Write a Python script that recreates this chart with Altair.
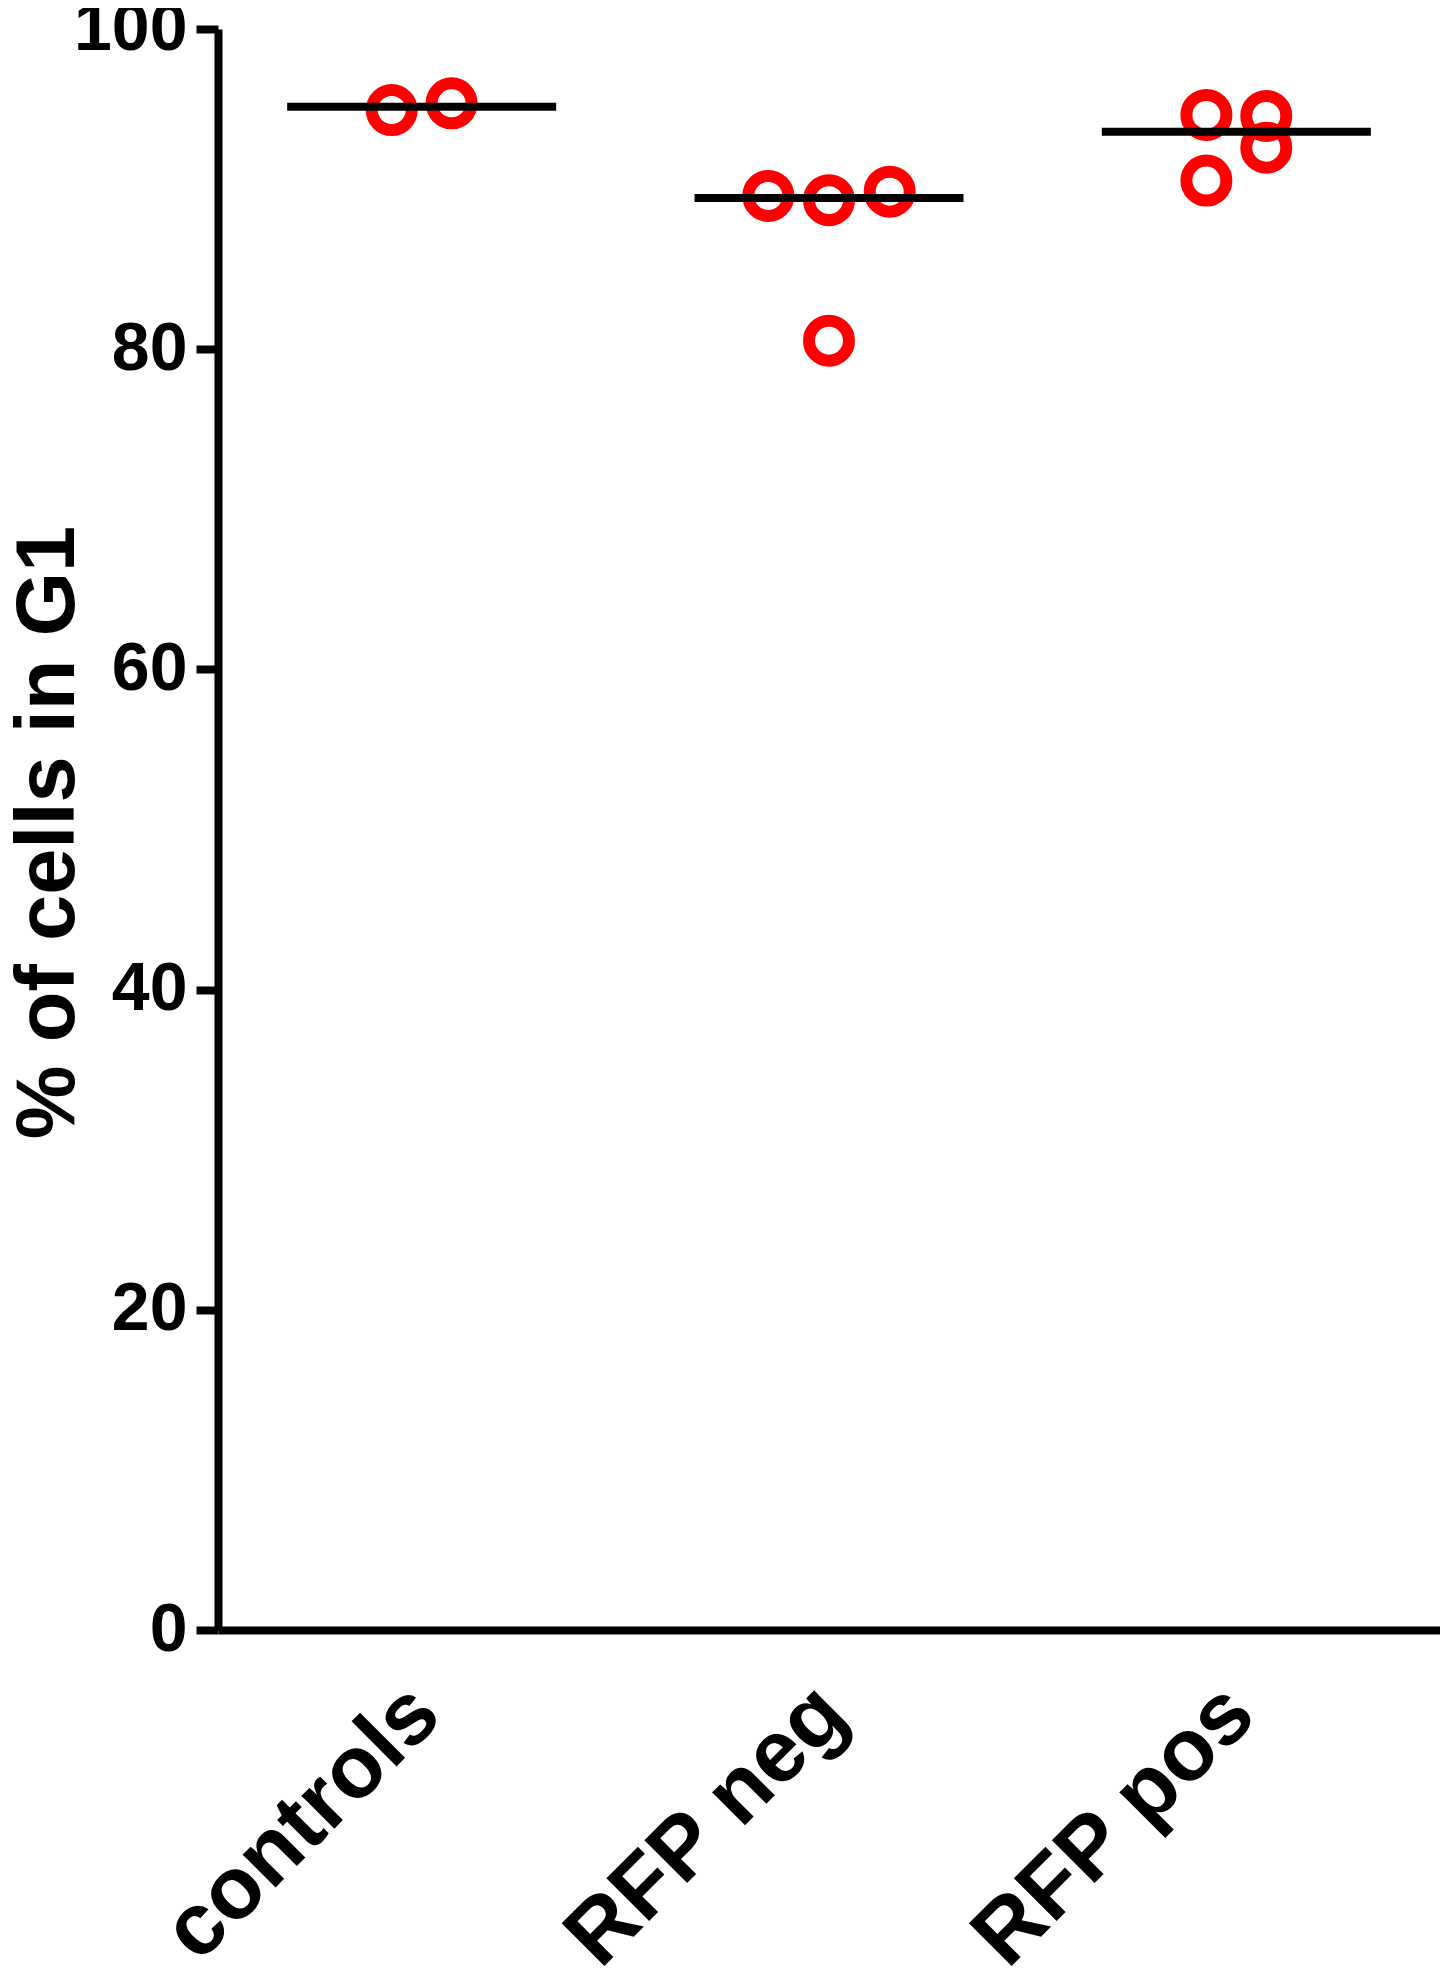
import altair as alt
import pandas as pd

groups = ["controls", "controls",
          "RFP neg", "RFP neg", "RFP neg", "RFP neg",
          "RFP pos", "RFP pos", "RFP pos", "RFP pos"]
values = [94.94, 95.36,
          89.57, 89.31, 89.84, 80.53,
          94.63, 94.57, 92.59, 90.53]
# horizontal scatter within each category (fraction of category band)
offsets = [-0.0735, 0.0735,
           -0.149, 0.0, 0.149, 0.0,
           -0.0735, 0.0735, 0.0735, -0.0735]
categories = ["controls", "RFP neg", "RFP pos"]
y_ticks = [0, 20, 40, 60, 80, 100]

df = pd.DataFrame({"group": groups, "value": values, "off": offsets})

FONT = "Liberation Sans"

x_enc = alt.X(
    "group:N",
    sort=categories,
    scale=alt.Scale(domain=categories, paddingInner=0, paddingOuter=0),
    axis=alt.Axis(
        title=None,
        labelAngle=315,
        labelAlign="right",
        labelBaseline="middle",
        labelFontSize=88,
        labelFont=FONT,
        labelFontWeight="bold",
        labelColor="black",
        labelPadding=70,
        labelOffset=4,
        labelLimit=0,
        labelOverlap=False,
        ticks=False,
        tickSize=0,
        domainColor="black",
        domainWidth=8,
        grid=False,
    ),
)

y_scale = alt.Scale(domain=[0, 100], nice=False, zero=True)

y_axis = alt.Axis(
    values=y_ticks,
    title="% of cells in G1",
    titleFont=FONT,
    titleFontSize=83,
    titleFontWeight="bold",
    titleColor="black",
    titleAngle=270,
    titleBaseline="alphabetic",
    titleAlign="center",
    titleX=-145,
    titleY=803,
    labelFont=FONT,
    labelFontSize=68,
    labelFontWeight="bold",
    labelColor="black",
    labelPadding=9,
    labelBaseline="middle",
    tickSize=22,
    tickWidth=8,
    tickColor="black",
    domainColor="black",
    domainWidth=8,
    grid=False,
)

points = alt.Chart(df).mark_point(
    shape="circle",
    filled=False,
    stroke="#FF0000",
    strokeWidth=12,
    size=1600,
    opacity=1,
).encode(
    x=x_enc,
    xOffset=alt.XOffset("off:Q", scale=alt.Scale(domain=[-0.5, 0.5])),
    y=alt.Y("value:Q", scale=y_scale, axis=y_axis),
)

medians = alt.Chart(df).mark_tick(
    color="black",
    size=269,
    thickness=8,
    opacity=1,
).encode(
    x=alt.X("group:N", sort=categories),
    y=alt.Y("median(value):Q", scale=y_scale),
)

chart = alt.layer(points, medians).properties(
    width=1222,
    height=1601,
    autosize=alt.AutoSizeParams(type="none"),
    padding={"left": 210, "top": 21, "right": 0, "bottom": 340},
    background="white",
).configure_view(stroke=None)

chart.save("out.html", embed_options={"renderer": "svg", "actions": False})
